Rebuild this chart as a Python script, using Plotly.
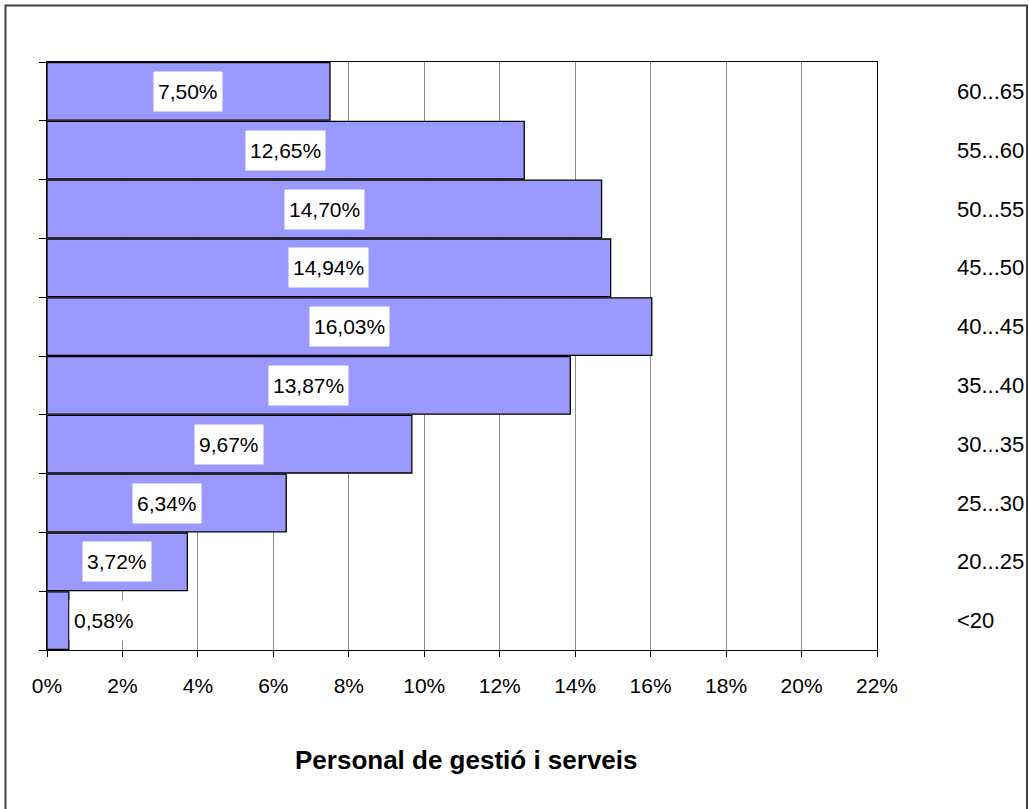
import plotly.graph_objects as go

categories = ["<20", "20...25", "25...30", "30...35", "35...40", "40...45",
              "45...50", "50...55", "55...60", "60...65"]
values = [0.58, 3.72, 6.34, 9.67, 13.87, 16.03, 14.94, 14.70, 12.65, 7.50]
x_tickvals = [0, 2, 4, 6, 8, 10, 12, 14, 16, 18, 20, 22]
title_text = "Personal de gestió i serveis"

W, H = 1029, 809
L, R, T, B = 47, 877, 62, 650
FONT = "Liberation Sans, Arial, sans-serif"
FS = 21


def px_x(px):
    return (px - L) / (R - L)


def px_y(py):
    return (B - py) / (B - T)


fig = go.Figure()
fig.add_trace(go.Bar(
    y=categories, x=values, orientation="h",
    marker=dict(color="#9999FF", line=dict(color="black", width=1.3)),
    hoverinfo="skip", showlegend=False,
))

annotations = []
for c, v in zip(categories, values):
    lbl = f"{v:.2f}".replace(".", ",") + "%"
    small = v < 2
    annotations.append(dict(
        x=v if small else v / 2, y=c, xref="x", yref="y",
        text=lbl, showarrow=False,
        xanchor="left" if small else "center", yanchor="middle",
        bgcolor="white", borderpad=4, height=31,
        font=dict(family=FONT, size=FS, color="black"),
    ))
    annotations.append(dict(
        x=px_x(955), y=c, xref="paper", yref="y",
        text=c, showarrow=False, xanchor="left", yanchor="middle",
        font=dict(family=FONT, size=22, color="black"),
    ))

annotations.append(dict(
    x=px_x(466), y=px_y(760), xref="paper", yref="paper",
    text="<b>" + title_text + "</b>", showarrow=False,
    xanchor="center", yanchor="middle",
    font=dict(family=FONT, size=26, color="black"),
))

fig.update_layout(
    width=W, height=H,
    margin=dict(l=L, r=W - R, t=T, b=H - B, pad=0),
    paper_bgcolor="white", plot_bgcolor="white",
    bargap=0.02,
    font=dict(family=FONT, size=FS, color="black"),
    xaxis=dict(
        range=[0, 22], tickvals=x_tickvals,
        ticktext=[f"{t}%" for t in x_tickvals],
        showgrid=True, gridcolor="#8c8c8c", gridwidth=1.3,
        showline=True, linecolor="black", linewidth=1.3, mirror=True,
        ticks="outside", ticklen=6, tickcolor="black", tickwidth=1.3,
        ticklabelstandoff=11, zeroline=False, fixedrange=True,
        tickfont=dict(family=FONT, size=21),
    ),
    yaxis=dict(
        categoryorder="array", categoryarray=categories,
        showticklabels=False, showgrid=False,
        showline=True, linecolor="black", linewidth=1.3, mirror=True,
        ticks="outside", ticklen=7, tickcolor="black", tickwidth=1.3,
        tickson="boundaries", fixedrange=True,
    ),
    annotations=annotations,
    shapes=[dict(
        type="rect", xref="paper", yref="paper",
        x0=px_x(5.5), x1=px_x(1027), y0=px_y(812), y1=px_y(5.5),
        line=dict(color="#404040", width=2), fillcolor="rgba(0,0,0,0)",
        layer="above",
    )],
)

fig.write_html(
    "out.html",
    config={"displayModeBar": False},
    post_script="document.body.style.margin='0';document.body.style.overflow='hidden';",
)
